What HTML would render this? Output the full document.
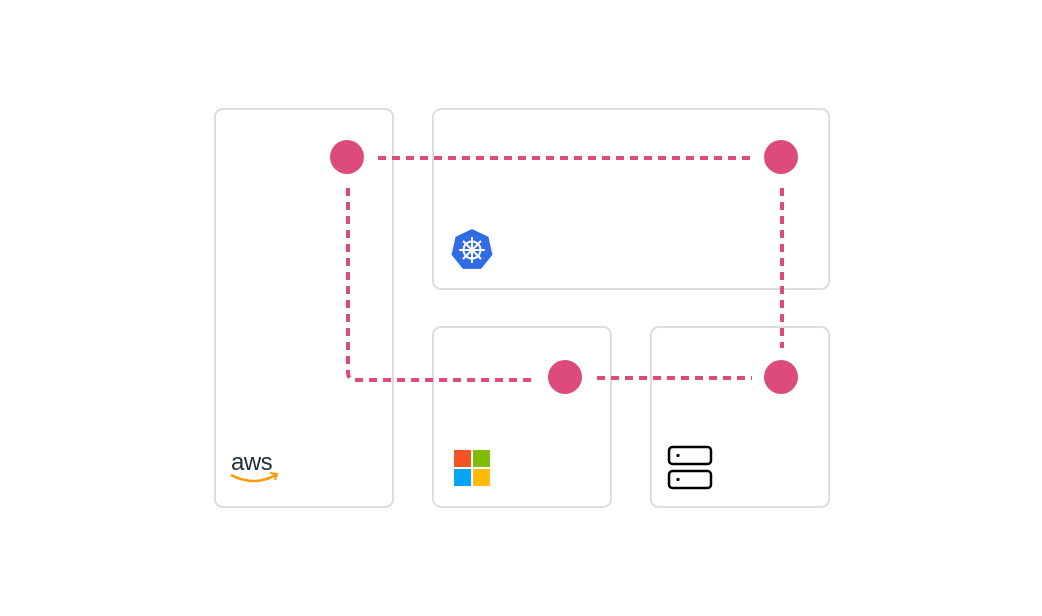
<!DOCTYPE html>
<html><head><meta charset="utf-8"><style>html,body{margin:0;padding:0;background:#fff}svg{display:block}</style></head>
<body>
<svg width="1042" height="616" viewBox="0 0 1042 616" xmlns="http://www.w3.org/2000/svg">
<g fill="none" stroke="#dddddd" stroke-width="2">
<rect x="215" y="109" width="178" height="398" rx="8"/>
<rect x="433" y="109" width="396" height="180" rx="8"/>
<rect x="433" y="327" width="178" height="180" rx="8"/>
<rect x="651" y="327" width="178" height="180" rx="8"/>
</g>
<g fill="none" stroke="#dc4a7e" stroke-width="4" stroke-dasharray="8 6">
<line x1="378" y1="158" x2="752" y2="158"/>
<path d="M348 188 V372 Q348 380 356 380 H534"/>
<line x1="597" y1="378" x2="752" y2="378"/>
<line x1="782" y1="188" x2="782" y2="348"/>
</g>
<g fill="#dc4a7e">
<circle cx="347" cy="157" r="17"/>
<circle cx="781" cy="157" r="17"/>
<circle cx="565" cy="377" r="17"/>
<circle cx="781" cy="377" r="17"/>
</g>
<g transform="translate(472,250)">
<polygon points="0,-21 16.4,-13.1 20.5,4.7 9.1,18.9 -9.1,18.9 -20.5,4.7 -16.4,-13.1" fill="#326ce5"/>
<g stroke="#fff" stroke-width="2" fill="none">
<circle r="8.5"/>
<line x1="0" y1="-13" x2="0" y2="13"/><line x1="-13" y1="0" x2="13" y2="0"/>
<line x1="-9" y1="-9" x2="9" y2="9"/><line x1="9" y1="-9" x2="-9" y2="9"/>
</g>
<circle r="2.5" fill="#fff"/>
</g>
<rect x="454" y="450" width="17" height="17" fill="#f35325"/>
<rect x="473" y="450" width="17" height="17" fill="#81bc06"/>
<rect x="454" y="469" width="17" height="17" fill="#05a6f0"/>
<rect x="473" y="469" width="17" height="17" fill="#ffba08"/>
<text x="231" y="470" font-family="Liberation Sans, sans-serif" font-size="24" letter-spacing="-0.5" fill="#232f3e">aws</text>
<path d="M231 475 Q254 487 276 475" fill="none" stroke="#ff9900" stroke-width="2.5"/>
<path d="M270 473 L277 474 L275 480" fill="none" stroke="#ff9900" stroke-width="2"/>
<g fill="none" stroke="#000" stroke-width="2.5">
<rect x="669" y="447" width="42" height="17" rx="3.5"/>
<rect x="669" y="471" width="42" height="17" rx="3.5"/>
</g>
<circle cx="678" cy="455.5" r="1.6" fill="#000"/>
<circle cx="678" cy="479.5" r="1.6" fill="#000"/>
</svg>
</body></html>
